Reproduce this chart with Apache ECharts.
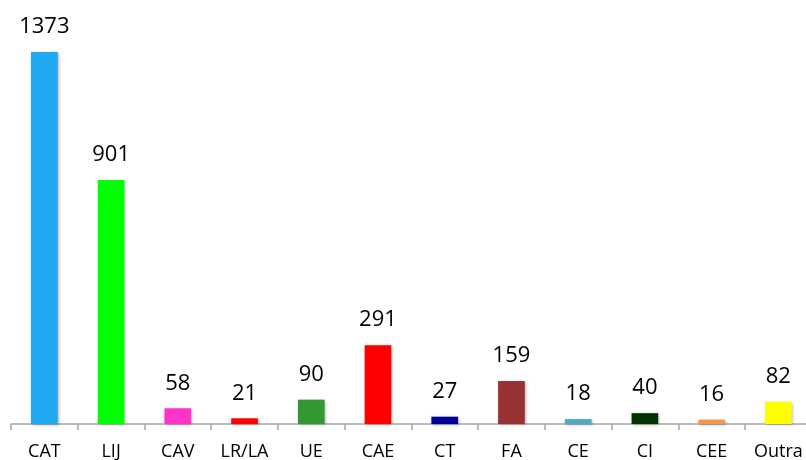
<!DOCTYPE html>
<html><head><meta charset="utf-8">
<script src="https://cdn.jsdelivr.net/npm/echarts@6/dist/echarts.min.js"></script>
<style>html,body{margin:0;padding:0;background:#fff}#c{width:806px;height:460px}</style>
</head><body><div id="c"></div>
<script>
const categories = ['CAT','LIJ','CAV','LR/LA','UE','CAE','CT','FA','CE','CI','CEE','Outra'];
const values = [1373, 901, 58, 21, 90, 291, 27, 159, 18, 40, 16, 82];
const colors = ['#1fa9f0','#00ff00','#ff33cc','#ff0000','#339933','#ff0000','#000099','#993333','#4bacc6','#003300','#f79646','#ffff00'];
const chart = echarts.init(document.getElementById('c'));
chart.setOption({
  animation: false,
  grid: {left: 11, width: 800.7, top: 44.7, bottom: 36, containLabel: false, outerBoundsMode: 'none'},
  xAxis: {
    type: 'category', data: categories,
    axisLine: {lineStyle: {color: '#a6a6a6', width: 1.5}},
    axisTick: {show: true, length: 6, lineStyle: {color: '#a6a6a6', width: 1.5}},
    axisLabel: {color: '#000', fontSize: 18, fontFamily: 'Open Sans', margin: 19, hideOverlap: false}
  },
  yAxis: {type: 'value', min: 0, max: 1400, show: false, splitLine: {show: false}},
  series: [{
    type: 'bar', barWidth: '40%',
    data: values.map((v, i) => ({value: v, itemStyle: {color: colors[i]}})),
    itemStyle: {shadowBlur: 3, shadowColor: 'rgba(0,0,0,0.3)', shadowOffsetX: 1, shadowOffsetY: 1},
    label: {show: true, position: 'top', distance: 14, color: '#000', fontSize: 22, fontFamily: 'Open Sans'}
  }]
});
</script></body></html>
